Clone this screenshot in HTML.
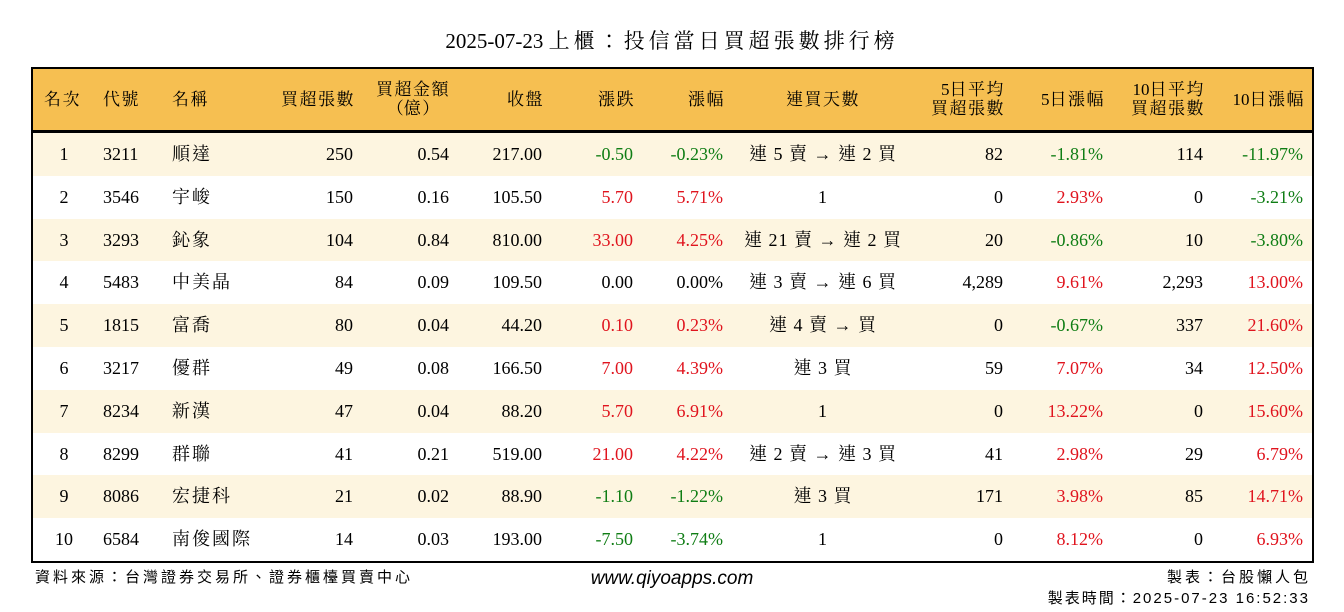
<!DOCTYPE html>
<html><head><meta charset="utf-8">
<style>
body{margin:0;width:1344px;height:612px;background:#fff;position:relative;overflow:hidden;font-family:"Liberation Serif","Noto Serif CJK TC",serif;color:#000}
.a{position:absolute;white-space:nowrap}
#title{left:0;width:1344px;top:27px;text-align:center;font-size:21px;line-height:28px}
#title .k{letter-spacing:4px}
#box{position:absolute;left:31px;top:67px;width:1279px;height:492px;border:2px solid #000}
#hdr{position:absolute;left:0;top:0;width:1279px;height:61px;background:#f6bf51;border-bottom:3px solid #000}
.row{position:absolute;left:0;width:1279px;height:43px}
.c{position:absolute;font-size:18px;line-height:43px;white-space:nowrap}
.nm .k{letter-spacing:2px}
.st{letter-spacing:1px}
.h{position:absolute;font-size:17px;line-height:19px;white-space:nowrap}
.h .k{letter-spacing:1.5px}
.g{color:#0f7d14}.r{color:#e0141e}
.foot{font-family:"Liberation Sans","Noto Sans CJK TC",sans-serif;font-size:15px;letter-spacing:3px}
</style></head><body>
<div class="a" id="title">2025-07-23 <span class="k">上櫃：投信當日買超張數排行榜</span></div>
<div id="box">
<div id="hdr"></div>
</div>
<div class="a foot" style="left:35px;top:566px">資料來源：台灣證券交易所、證券櫃檯買賣中心</div>
<div class="a" style="left:0;width:1344px;text-align:center;top:568px;font-family:'Liberation Sans',sans-serif;font-style:italic;font-size:19px">www.qiyoapps.com</div>
<div class="a foot" style="right:33px;top:566px">製表：台股懶人包</div>
<div class="a foot" style="right:34px;top:587px;letter-spacing:2px">製表時間：2025-07-23 16:52:33</div>
<script>
const ranks=[1,2,3,4,5,6,7,8,9,10];
const codes=["3211","3546","3293","5483","1815","3217","8234","8299","8086","6584"];
const names=["順達","宇峻","鈊象","中美晶","富喬","優群","新漢","群聯","宏捷科","南俊國際"];
const buyLots=["250","150","104","84","80","49","47","41","21","14"];
const buyAmt=["0.54","0.16","0.84","0.09","0.04","0.08","0.04","0.21","0.02","0.03"];
const closes=["217.00","105.50","810.00","109.50","44.20","166.50","88.20","519.00","88.90","193.00"];
const changes=["-0.50","5.70","33.00","0.00","0.10","7.00","5.70","21.00","-1.10","-7.50"];
const pcts=["-0.23%","5.71%","4.25%","0.00%","0.23%","4.39%","6.91%","4.22%","-1.22%","-3.74%"];
const streaks=["連 5 賣 → 連 2 買","1","連 21 賣 → 連 2 買","連 3 賣 → 連 6 買","連 4 賣 → 買","連 3 買","1","連 2 賣 → 連 3 買","連 3 買","1"];
const avg5=["82","0","20","4,289","0","59","0","41","171","0"];
const pct5=["-1.81%","2.93%","-0.86%","9.61%","-0.67%","7.07%","13.22%","2.98%","3.98%","8.12%"];
const avg10=["114","0","10","2,293","337","34","0","29","85","0"];
const pct10=["-11.97%","-3.21%","-3.80%","13.00%","21.60%","12.50%","15.60%","6.79%","14.71%","6.93%"];
const box=document.getElementById('box');
const hdr=document.getElementById('hdr');
function wrapCJK(s){return s.replace(/([^\x00-\x7F<>（）]+)/g,'<span class="k">$1</span>');}
const heads=[["名次","l",11],["代號","l",70],["名稱","l",139],["買超張數","r",322],["買超金額<br>（億）","c",380],["收盤","r",511],["漲跌","r",602],["漲幅","r",692],["連買天數","c",790],["5日平均<br>買超張數","r",972],["5日漲幅","r",1072],["10日平均<br>買超張數","r",1172],["10日漲幅","r",1272]];
heads.forEach(h=>{
  const d=document.createElement('div');
  d.className='h';
  d.innerHTML=wrapCJK(h[0]);
  if(h[1]==='l'){d.style.left=h[2]+'px';}
  else if(h[1]==='r'){d.style.left=(h[2]-200)+'px';d.style.width='200px';d.style.textAlign='right';}
  else{d.style.left=(h[2]-100)+'px';d.style.width='200px';d.style.textAlign='center';}
  d.style.top=(h[0].includes('<br>')?11:21)+'px';
  
  
  hdr.appendChild(d);
});
function cls(v){const n=parseFloat(v);return n>0?'r':(n<0?'g':'');}
for(let i=0;i<ranks.length;i++){
  const row=document.createElement('div');
  row.className='row';
  row.style.top=(64+i*42.8)+'px';
  row.style.background=i%2===0?'#fdf5e0':'#fff';
  
  
  box.appendChild(row);
  const cells=[
    [ranks[i],'c',31,''],[codes[i],'l',70,''],[names[i],'l',139,'nm'],
    [buyLots[i],'r',320,''],[buyAmt[i],'r',416,''],[closes[i],'r',509,''],
    [changes[i],'r',600,cls(changes[i])],[pcts[i],'r',690,cls(pcts[i])],
    [streaks[i],'c',790,'st'],[avg5[i],'r',970,''],[pct5[i],'r',1070,cls(pct5[i])],
    [avg10[i],'r',1170,''],[pct10[i],'r',1270,cls(pct10[i])]
  ];
  cells.forEach(c=>{
    const d=document.createElement('div');
    d.className='c '+c[3];
    if(c[3]==='nm'){d.innerHTML=wrapCJK(String(c[0]));}else{d.textContent=c[0];}
    if(c[1]==='l'){d.style.left=c[2]+'px';}
    else if(c[1]==='r'){d.style.left=(c[2]-200)+'px';d.style.width='200px';d.style.textAlign='right';}
    else{d.style.left=(c[2]-150)+'px';d.style.width='300px';d.style.textAlign='center';}
    
    
    row.appendChild(d);
  });
}
</script>
</body></html>
